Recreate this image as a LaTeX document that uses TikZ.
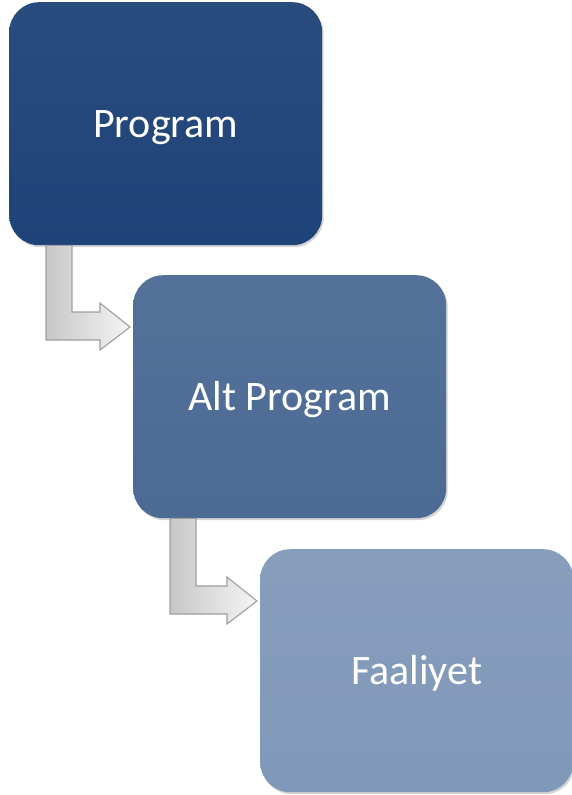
\documentclass[tikz,border=0pt]{standalone}
\usepackage{fontspec}
\setmainfont{Carlito}
\usetikzlibrary{calc,shadows}
\definecolor{boxA}{RGB}{30,67,120}
\definecolor{boxB}{RGB}{75,106,148}
\definecolor{boxC}{RGB}{128,152,185}
\newcommand{\cardtext}[1]{\raisebox{-14pt}[0pt][0pt]{#1}}
\tikzset{
  card/.style={rounded corners=30pt, minimum width=313pt, minimum height=243pt,
    inner sep=0pt, anchor=north west, text=white, font=\fontsize{42}{48}\selectfont,
    drop shadow={opacity=0.35, shadow xshift=1.5pt, shadow yshift=-2pt}},
  bentarrow/.style={draw=black!38, line width=1.1pt, line join=miter,
    left color=black!22, right color=black!4},
}
\begin{document}
\begin{tikzpicture}[x=1pt,y=-1pt]
\useasboundingbox (0,0) rectangle (572,795);
\node[card, top color=boxA!95!white, bottom color=boxA] (b1) at (9,2) {\cardtext{Program}};
\node[card, top color=boxB!95!white, bottom color=boxB] (b2) at (133,275) {\cardtext{Alt Program}};
\node[card, top color=boxC!95!white, bottom color=boxC] (b3) at (260,549) {\cardtext{Faaliyet}};
\foreach \s/\t in {b1/b2, b2/b3}{
  \path[bentarrow] let \p1=(\s.south west), \p2=(\t.north west) in
    (\x1+37,\y1) -- (\x1+37,\y2-65) -- (\x2-33,\y2-65) -- (\x2-33,\y2-75)
    -- (\x2-3,\y2-52) -- (\x2-33,\y2-28) -- (\x2-33,\y2-37)
    -- (\x1+63,\y2-37) -- (\x1+63,\y1) -- cycle;
}
\end{tikzpicture}
\end{document}
